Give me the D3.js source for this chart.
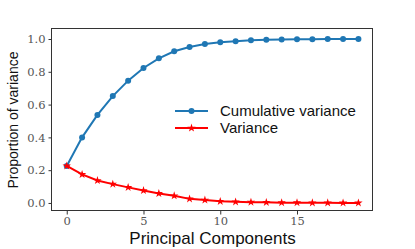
<!DOCTYPE html>
<html>
<head>
<meta charset="utf-8">
<script src="https://cdn.jsdelivr.net/npm/d3@7"></script>
<style>
  body { margin: 0; background: #fff; }
  svg { display: block; }
</style>
</head>
<body>
<svg></svg>
<script>
// data
var components = d3.range(20)
var cumulative = [0.226, 0.400, 0.537, 0.652, 0.746, 0.823, 0.882, 0.925, 0.951, 0.970,
                  0.980, 0.987, 0.992, 0.995, 0.997, 0.998, 0.999, 0.9995, 1.0, 1.0]
var variance = [0.226, 0.174, 0.137, 0.115, 0.095, 0.076, 0.058, 0.044, 0.025, 0.018,
                0.010, 0.007, 0.005, 0.004, 0.002, 0.002, 0.001, 0.001, 0.0005, 0.0003]
var xTicks = [0, 5, 10, 15]
var yTicks = [0, 0.2, 0.4, 0.6, 0.8, 1.0]
var seriesNames = ["Cumulative variance", "Variance"]

var width = 415, height = 249
var margin = {top: 29, right: 42, bottom: 38, left: 52}

var svg = d3.select("svg")
  .attr("width", width)
  .attr("height", height)

var x = d3.scaleLinear()
  .domain([-0.96, 19.95])
  .range([margin.left, width - margin.right])

var y = d3.scaleLinear()
  .domain([-0.049, 1.061])
  .range([height - margin.bottom, margin.top])

// axes
var xAxis = svg.append("g")
  .attr("transform", "translate(0," + (height - margin.bottom) + ")")
  .call(d3.axisBottom(x).tickValues(xTicks).tickSize(3.5).tickPadding(2.3).tickFormat(d3.format("d")))
var yAxis = svg.append("g")
  .attr("transform", "translate(" + margin.left + ",0)")
  .call(d3.axisLeft(y).tickValues(yTicks).tickSize(3.5).tickPadding(3).tickFormat(d3.format(".1f")))

;[xAxis, yAxis].forEach(function(a) {
  a.select(".domain").remove()
  a.selectAll(".tick line").attr("stroke", "#333")
  a.selectAll(".tick text")
    .attr("fill", "#555")
    .style("font-family", "DejaVu Serif")
    .style("font-size", "11.5px")
})

// frame
svg.append("rect")
  .attr("x", margin.left - 0.5)
  .attr("y", margin.top - 0.5)
  .attr("width", width - margin.left - margin.right)
  .attr("height", height - margin.top - margin.bottom)
  .attr("fill", "none")
  .attr("stroke", "#333")
  .attr("stroke-width", 1)

var line = d3.line()
  .x(function(d, i) { return x(components[i]) })
  .y(function(d) { return y(d) })

// cumulative
svg.append("path")
  .datum(cumulative)
  .attr("d", line)
  .attr("fill", "none")
  .attr("stroke", "#1f77b4")
  .attr("stroke-width", 2)
svg.append("g").selectAll("circle")
  .data(cumulative)
  .enter().append("circle")
  .attr("cx", function(d, i) { return x(components[i]) })
  .attr("cy", function(d) { return y(d) })
  .attr("r", 3)
  .attr("fill", "#1f77b4")

// variance
var star = d3.symbol().type(d3.symbolStar).size(22)
svg.append("path")
  .datum(variance)
  .attr("d", line)
  .attr("fill", "none")
  .attr("stroke", "#ff0000")
  .attr("stroke-width", 2)
svg.append("g").selectAll("path")
  .data(variance)
  .enter().append("path")
  .attr("d", star)
  .attr("transform", function(d, i) { return "translate(" + x(components[i]) + "," + y(d) + ")" })
  .attr("fill", "#ff0000")

// legend
var legend = svg.append("g").attr("transform", "translate(175,111)")
var colors = ["#1f77b4", "#ff0000"]
seriesNames.forEach(function(name, i) {
  var g = legend.append("g").attr("transform", "translate(0," + (i * 17) + ")")
  g.append("line")
    .attr("x1", 0).attr("x2", 33)
    .attr("stroke", colors[i])
    .attr("stroke-width", 2)
  if (i == 0) {
    g.append("circle").attr("cx", 16.5).attr("r", 3).attr("fill", colors[i])
  } else {
    g.append("path").attr("d", star).attr("transform", "translate(16.5,0)").attr("fill", colors[i])
  }
  g.append("text")
    .attr("x", 45)
    .attr("y", 5)
    .style("font-family", "Liberation Sans")
    .style("font-size", "15px")
    .attr("fill", "#111")
    .text(name)
})

// axis labels
svg.append("text")
  .attr("x", (margin.left + width - margin.right) / 2)
  .attr("y", 243.5)
  .attr("text-anchor", "middle")
  .style("font-family", "Liberation Sans")
  .style("font-size", "17px")
  .attr("fill", "#111")
  .text("Principal Components")

svg.append("text")
  .attr("transform", "translate(17.5," + ((margin.top + height - margin.bottom) / 2) + ") rotate(-90)")
  .attr("text-anchor", "middle")
  .style("font-family", "Liberation Sans")
  .style("font-size", "14px")
  .attr("fill", "#111")
  .text("Proportion of variance")
</script>
</body>
</html>
